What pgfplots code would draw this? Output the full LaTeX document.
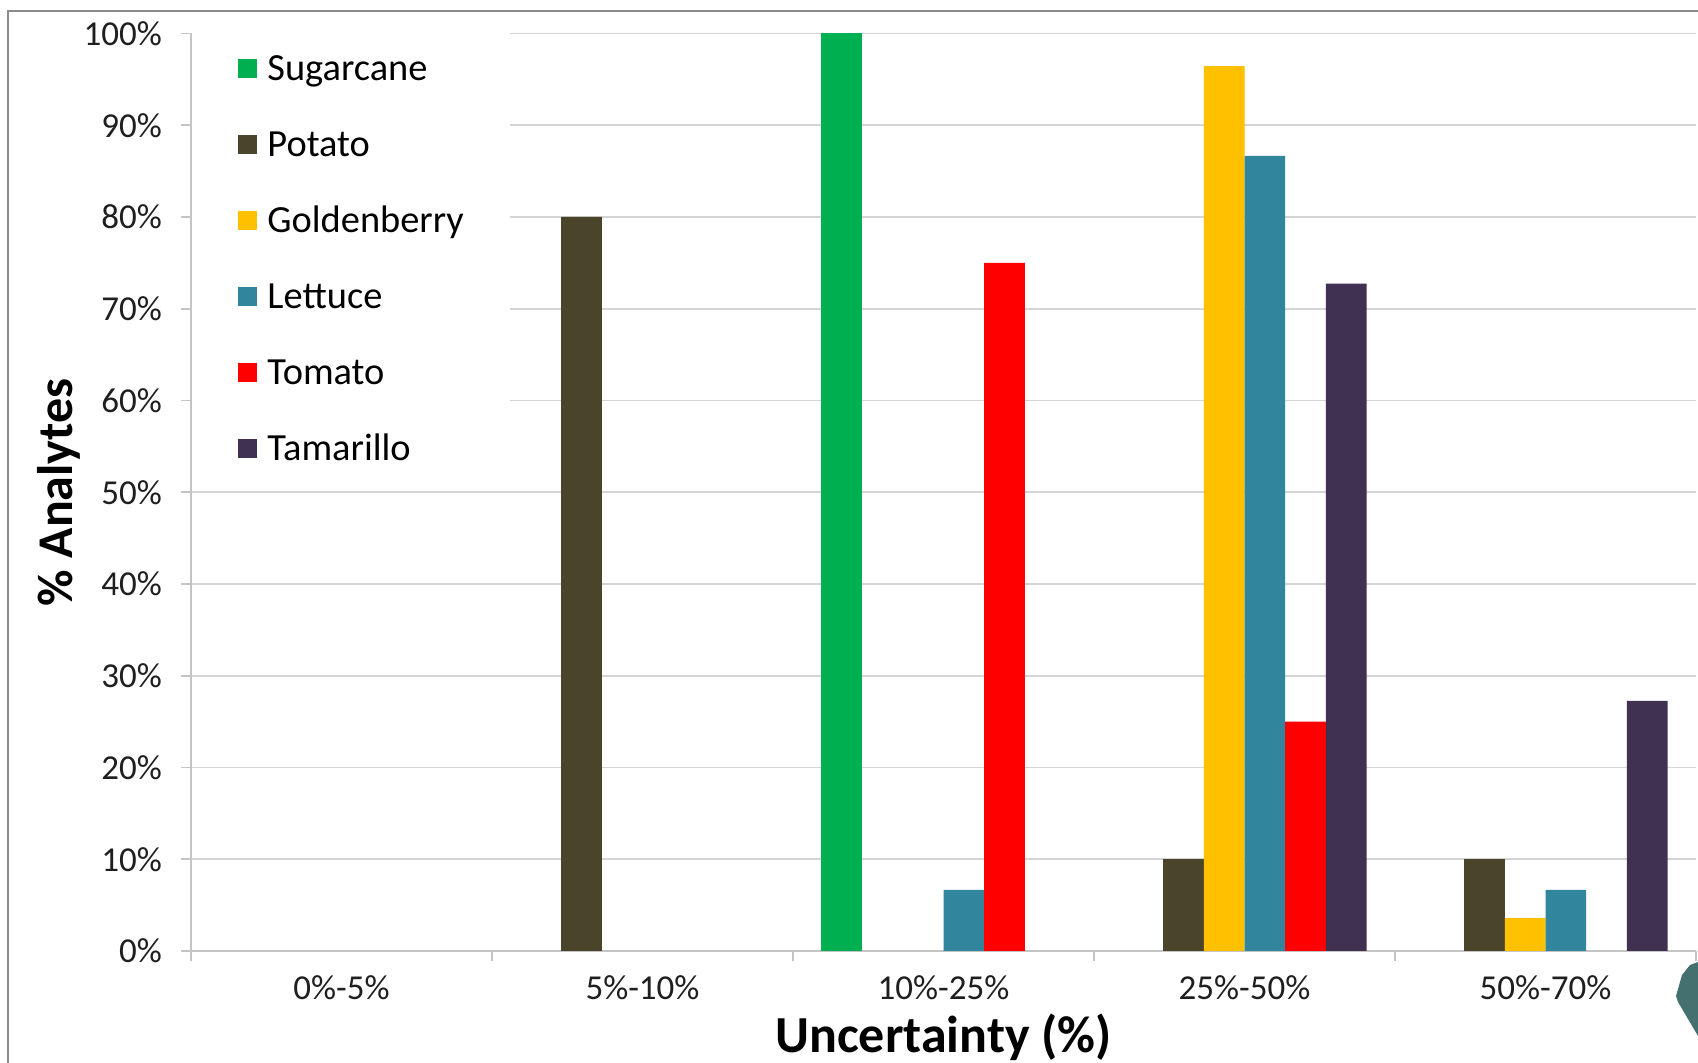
\documentclass[border=0pt]{standalone}
\usepackage{pgfplots}
\pgfplotsset{compat=1.18}
\usepackage{fontspec}
\setmainfont{Carlito}

\definecolor{sugar}{HTML}{00B050}
\definecolor{potato}{HTML}{4A452A}
\definecolor{golden}{HTML}{FFC000}
\definecolor{lettuce}{HTML}{31859C}
\definecolor{tomato}{HTML}{FF0000}
\definecolor{tamarillo}{HTML}{403151}
\definecolor{gridgray}{HTML}{D4D4D4}
\definecolor{axisgray}{HTML}{C4C4C4}
\definecolor{framegray}{HTML}{8C8C8C}
\definecolor{accent}{HTML}{44716F}

\begin{document}
\begin{tikzpicture}
\useasboundingbox (0,0) rectangle (849pt,531.5pt);
\fill[white] (0,0) rectangle (849pt,531.5pt);
% slide frame
\draw[framegray, line width=1pt] (4pt,-10pt) -- (4pt,526.2pt) -- (860pt,526.2pt);
% corner ornament
\fill[accent] (849pt,50.5pt) -- (845pt,49pt) -- (841pt,44pt) -- (838pt,33.5pt) -- (839pt,30.5pt) -- (849pt,13.5pt) -- cycle;
\begin{axis}[
  scale only axis, width=752.5pt, height=458.75pt,
  at={(95.5pt,56pt)}, anchor=south west,
  ybar=0pt, bar width=20.34pt,
  xmin=-0.5, xmax=4.5, ymin=0, ymax=100,
  axis x line*=bottom, axis y line*=left,
  axis line style={draw=axisgray, line width=0.8pt},
  tick align=outside,
  major tick length=5pt,
  tick style={draw=axisgray, line width=0.8pt},
  ymajorgrids, grid style={draw=gridgray, line width=0.8pt},
  ytick={0,10,...,100},
  yticklabel={\pgfmathprintnumber{\tick}\%},
  yticklabel style={xshift=-6pt},
  xtick={-0.5,0.5,1.5,2.5,3.5,4.5},
  xticklabels={,,,,,},
  extra x ticks={0,1,2,3,4},
  extra x tick labels={0\%-5\%,5\%-10\%,10\%-25\%,25\%-50\%,50\%-70\%},
  extra x tick style={major tick length=0pt, grid=none, xticklabel style={yshift=-9pt}},
  /pgf/number format/assume math mode=true,
  tick label style={font=\fontsize{17.5}{20}\selectfont, color=black!88},
  xlabel={Uncertainty (\%)},
  ylabel={\% Analytes},
  every axis x label/.style={at={(axis description cs:0.5,-0.1101)}, anchor=base, font=\bfseries\fontsize{26}{30}\selectfont},
  every axis y label/.style={at={(axis description cs:-0.0881,0.5)}, rotate=90, anchor=center, font=\bfseries\fontsize{25}{28}\selectfont},
  legend cell align=left,
  legend image code/.code={\fill[#1, draw=none] (0pt,-5.5pt) rectangle (9.5pt,4pt);},
  legend style={at={(rel axis cs:0.0007,1.0063)}, anchor=north west, draw=none, fill=white,
    inner xsep=23pt, inner ysep=10pt, row sep=19pt, column sep=5pt,
    font=\fontsize{19.2}{22}\selectfont,
    nodes={inner sep=0pt, text height=16pt, text depth=3pt}},
]
\addplot[fill=sugar, draw=none] coordinates {(2,100)};
\addlegendentry{Sugarcane}
\addplot[fill=potato, draw=none] coordinates {(1,80) (3,10) (4,10)};
\addlegendentry{Potato}
\addplot[fill=golden, draw=none] coordinates {(3,96.43) (4,3.57)};
\addlegendentry{Goldenberry}
\addplot[fill=lettuce, draw=none] coordinates {(2,6.67) (3,86.67) (4,6.67)};
\addlegendentry{Lettuce}
\addplot[fill=tomato, draw=none] coordinates {(2,75) (3,25)};
\addlegendentry{Tomato}
\addplot[fill=tamarillo, draw=none] coordinates {(3,72.73) (4,27.27)};
\addlegendentry{Tamarillo}
\end{axis}
\end{tikzpicture}
\end{document}
